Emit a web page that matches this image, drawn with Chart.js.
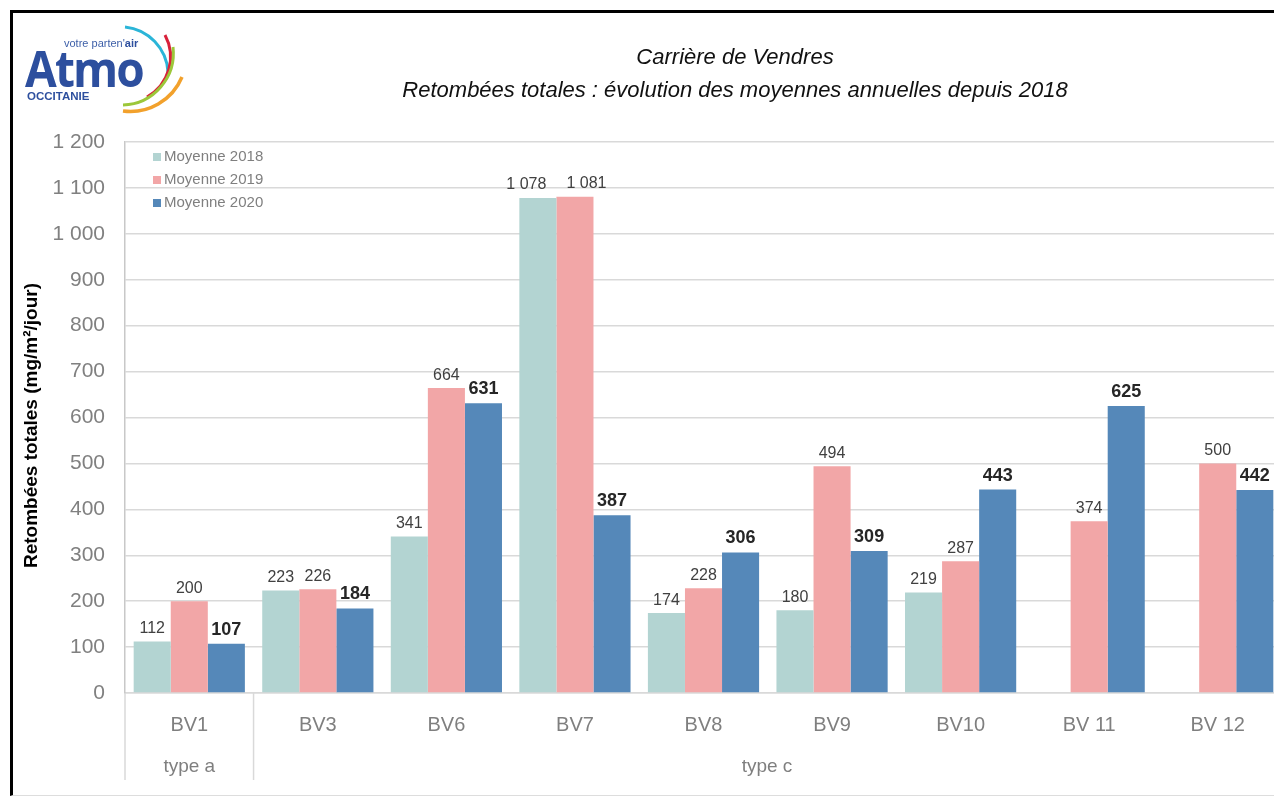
<!DOCTYPE html>
<html>
<head>
<meta charset="utf-8">
<script src="https://cdn.jsdelivr.net/npm/chart.js@4.4.1/dist/chart.umd.min.js"></script>
<style>
  html,body{margin:0;padding:0;background:#fff;overflow:hidden;width:1274px;height:796px;}
  #frame{position:absolute;left:10px;top:10px;width:1300px;height:782px;border-left:3px solid #000;border-top:3px solid #000;border-bottom:1px solid #ddd;}
  #wrap{position:absolute;left:0;top:0;width:1300px;height:796px;}
  #logo{position:absolute;left:22px;top:22px;width:170px;height:95px;}
  #logo .atmo{position:absolute;left:3px;top:21px;font:bold 50px "Open Sans","DejaVu Sans",sans-serif;color:#2d4f9e;letter-spacing:-2px;line-height:50px;transform:scaleX(0.92);transform-origin:0 0;}
  #logo .votre{position:absolute;left:42px;top:15px;font:11px "Liberation Sans",Arial,sans-serif;color:#3d5fa8;white-space:nowrap;z-index:2;}
  #logo .votre b{color:#2d4f9e;}
  #logo .occ{position:absolute;left:5px;top:68px;font:bold 11.5px "Liberation Sans",Arial,sans-serif;color:#2d4f9e;}
  #logo svg{position:absolute;left:0;top:0;}
  .title{position:absolute;left:0;width:1470px;text-align:center;font:italic 22px/26px "Liberation Sans",Arial,sans-serif;color:#111;white-space:nowrap;}
</style>
</head>
<body>
<div id="wrap"><canvas id="c" width="1300" height="796"></canvas></div>
<div id="frame"></div>
<div id="logo">
  <svg width="170" height="95" viewBox="0 0 170 95">
    <path d="M 103 5 A 48 48 0 0 1 146 50" fill="none" stroke="#2bb5d8" stroke-width="3"/>
    <path d="M 143 13 A 46 46 0 0 1 125 75" fill="none" stroke="#d8213a" stroke-width="3"/>
    <path d="M 151 25 A 52 52 0 0 1 101 83" fill="none" stroke="#9cc73a" stroke-width="3"/>
    <path d="M 160 55 A 56 56 0 0 1 101 89" fill="none" stroke="#f2a12c" stroke-width="3.5"/>
  </svg>
  <div class="atmo">Atmo</div>
  <div class="votre">votre parten'<b>air</b></div>
  <div class="occ">OCCITANIE</div>
</div>
<div class="title" style="top:44px;">Carrière de Vendres</div>
<div class="title" style="top:77px;">Retombées totales : évolution des moyennes annuelles depuis 2018</div>
<script>
const categories = ["BV1", "BV3", "BV6", "BV7", "BV8", "BV9", "BV10", "BV 11", "BV 12"];
const groupLabels = ["type a", "type c"];
const groupSizes = [1, 8];
const seriesNames = ["Moyenne 2018", "Moyenne 2019", "Moyenne 2020"];
const moyenne2018 = [112, 223, 341, 1078, 174, 180, 219, null, null];
const moyenne2019 = [200, 226, 664, 1081, 228, 494, 287, 374, 500];
const moyenne2020 = [107, 184, 631, 387, 306, 309, 443, 625, 442];
const yTicks = [0, 100, 200, 300, 400, 500, 600, 700, 800, 900, 1000, 1100, 1200];
const yTitle = "Retombées totales (mg/m²/jour)";

const colors = ["#b3d4d2", "#f2a6a7", "#5588b9"];
const FONT = '"Liberation Sans", Arial, sans-serif';

function fmt(v){ return String(v).replace(/\B(?=(\d{3})+(?!\d))/g, " "); }

const extras = {
  id: "extras",
  afterDatasetsDraw(chart){
    const ctx = chart.ctx;
    ctx.save();
    const n = chart.data.labels.length;
    for (let i = 0; i < n; i++) {
      const items = [];
      chart.data.datasets.forEach((ds, di) => {
        const v = ds.data[i];
        if (v === null || v === undefined) return;
        const el = chart.getDatasetMeta(di).data[i];
        const font = di === 2 ? "bold 18px " + FONT : "16px " + FONT;
        ctx.font = font;
        const w = ctx.measureText(fmt(v)).width;
        items.push({ text: fmt(v), x: el.x, y: el.y, w, font, color: di === 2 ? "#262626" : "#404040" });
      });
      for (let k = 1; k < items.length; k++) {
        const a = items[k-1], b = items[k];
        if (Math.abs(a.y - b.y) > 22) continue;
        const gap = (b.x - b.w/2) - (a.x + a.w/2);
        if (gap < 3) { const s = (20 - gap) / 2; a.x -= s; b.x += s; }
      }
      items.forEach(it => {
        ctx.font = it.font; ctx.fillStyle = it.color;
        ctx.textAlign = "center"; ctx.textBaseline = "bottom";
        ctx.fillText(it.text, it.x, it.y - 5);
      });
    }
    ctx.restore();
  },
  afterDraw(chart){
    const ctx = chart.ctx;
    const area = chart.chartArea;
    ctx.save();
    // legend
    chart.data.datasets.forEach((ds, di) => {
      const ly = 157 + di * 23;
      ctx.fillStyle = ds.backgroundColor;
      ctx.fillRect(153, ly - 4, 8, 8);
      ctx.fillStyle = "#7f7f7f";
      ctx.font = "15px " + FONT;
      ctx.textAlign = "left";
      ctx.textBaseline = "middle";
      ctx.fillText(ds.label, 164, ly);
    });
    // group separators & labels
    const step = (area.right - area.left) / categories.length;
    ctx.strokeStyle = "#d9d9d9";
    ctx.lineWidth = 1.5;
    let idx = 0;
    const bounds = [area.left];
    groupSizes.forEach(n => { idx += n; bounds.push(area.left + idx * step); });
    bounds.forEach((bx, k) => {
      if (k === bounds.length - 1) return;
      ctx.beginPath();
      ctx.moveTo(bx, area.bottom);
      ctx.lineTo(bx, 780);
      ctx.stroke();
    });
    ctx.fillStyle = "#7f7f7f";
    ctx.font = "19px " + FONT;
    ctx.textAlign = "center";
    ctx.textBaseline = "middle";
    groupLabels.forEach((g, k) => {
      const cx = (bounds[k] + Math.min(bounds[k+1], 1282)) / 2;
      ctx.fillText(g, k === 1 ? 767 : cx, 767);
    });
    // y title
    ctx.save();
    ctx.translate(32, (area.top + area.bottom) / 2 + 8);
    ctx.rotate(-Math.PI / 2);
    ctx.fillStyle = "#000";
    ctx.font = "bold 19px " + FONT;
    ctx.textAlign = "center";
    ctx.textBaseline = "middle";
    ctx.fillText(yTitle, 0, 0);
    ctx.restore();
    ctx.restore();
  }
};

new Chart(document.getElementById("c"), {
  type: "bar",
  data: {
    labels: categories,
    datasets: [
      { label: seriesNames[0], data: moyenne2018, backgroundColor: colors[0] },
      { label: seriesNames[1], data: moyenne2019, backgroundColor: colors[1] },
      { label: seriesNames[2], data: moyenne2020, backgroundColor: colors[2] }
    ]
  },
  options: {
    responsive: false,
    animation: false,
    devicePixelRatio: 1,
    layout: { padding: { left: 0, right: 18, top: 142, bottom: 0 } },
    plugins: { legend: { display: false }, tooltip: { enabled: false } },
    datasets: { bar: { categoryPercentage: 0.865, barPercentage: 1.0, borderWidth: 0 } },
    scales: {
      x: {
        grid: { display: false },
        border: { display: true, color: "#d9d9d9", width: 1.5 },
        ticks: { color: "#7f7f7f", font: { family: FONT, size: 20 }, padding: 12, maxRotation: 0, autoSkip: false },
        afterFit(s){ s.height = 103; }
      },
      y: {
        min: 0, max: 1200,
        afterBuildTicks(s){ s.ticks = yTicks.map(v => ({ value: v })); },
        grid: { color: "#d9d9d9", lineWidth: 1.5, drawTicks: false },
        border: { display: true, color: "#c8c8c8", width: 1.5 },
        ticks: { color: "#808080", font: { family: FONT, size: 21 }, padding: 20, callback: v => fmt(v) },
        afterFit(s){ s.width = 125; }
      }
    }
  },
  plugins: [extras]
});
</script>
</body>
</html>
